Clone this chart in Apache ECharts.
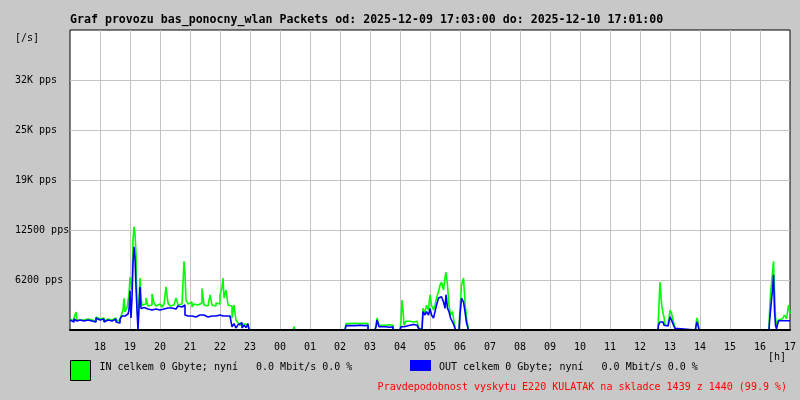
<!DOCTYPE html>
<html><head><meta charset="utf-8">
<script src="https://cdn.jsdelivr.net/npm/echarts@6/dist/echarts.min.js"></script>
<style>html,body{margin:0;padding:0;background:#c8c8c8}#c{width:800px;height:400px}</style>
</head><body><div id="c"></div>
<script>
// time axis: minutes after 17:00 (2025-12-09)
const minutes = [
  0,4,8,12,14,16,20,24,28,32,36,40,44,48,52,56,60,64,68,72,76,80,84,88,92,96,100,
  102,104,106,108,110,112,114,116,118,120,122,124,126,128,130,132,134,136,138,140,142,144,
  148,152,156,160,164,168,172,176,180,184,188,192,196,200,204,208,212,216,220,224,228,
  230,232,236,240,244,248,252,256,260,264,268,272,276,280,284,288,292,296,300,304,306,308,312,316,320,
  324,328,332,336,340,344,348,352,356,358,
  446,448,450,
  550,552,560,570,580,590,596,
  610,612,614,616,618,630,640,646,
  660,662,664,666,668,672,680,688,694,698,704,
  706,710,713,717,720,723,727,730,733,737,740,743,747,750,752,755,758,761,765,768,771,
  778,780,783,787,790,793,797,
  1176,1177,1180,1183,1186,1188,1190,1196,1200,1203,1207,1210,1214,
  1251,1252,1254,1256,1258,
  1398,1399,1401,1403,1405,1407,1409,1411,1413,1417,1421,1425,1429,1433,1437,1440
];
const inPps = [
  1375,1125,1500,2250,1250,1250,1500,1250,1125,1375,1500,1250,1375,1125,1625,1375,1250,1500,1125,1375,1625,1250,1375,1500,1125,1250,1500,
  1750,1875,2500,3950,2250,2000,2750,2750,4500,6600,6000,5000,11250,12900,12000,9600,3000,1250,1500,6500,4150,3100,
  3250,4000,3000,3125,4500,3375,3000,3250,3125,2875,3250,5400,3375,3000,3125,3250,4000,3125,3250,3500,8600,
  6900,3750,3250,3500,2875,3250,3125,3000,3375,5200,3125,3000,3250,4400,3125,3000,3375,3250,4400,5300,6500,4000,5000,3125,3000,
  1500,3100,1250,900,600,750,500,650,500,0,
  0,400,0,
  0,800,850,800,850,800,0,
  0,600,1500,1250,600,650,600,0,
  0,1200,3750,2500,600,1100,1000,1100,900,150,200,
  2700,2100,3100,2500,4400,3100,2500,3100,4000,4800,5600,6000,5000,6500,7200,5600,3100,1875,2300,1000,0,
  0,2700,5600,6500,3500,1500,0,
  0,1650,6000,3300,2100,1650,600,600,2500,2100,1000,300,0,
  0,800,1500,1000,0,
  0,2300,4600,4600,7100,8600,5000,1650,600,1250,1400,1250,1875,1400,3100,2000
];
const outPps = [
  1250,1000,1375,1125,1125,1250,1500,1125,1000,1250,1375,1125,1250,1000,1500,1250,1125,1375,1000,1250,1500,1125,1250,1375,1000,875,1375,
  1625,1750,1500,1750,1625,1875,2000,1875,2500,4900,1500,4000,8400,10400,9000,5400,2500,0,0,5400,2700,2800,
  2750,2625,2875,2500,2750,2625,2875,2500,2750,2625,2875,2750,2500,2750,2875,2625,2750,3000,2875,3000,3125,
  1875,1750,1875,1750,1875,1625,1750,1875,1750,1875,1750,1625,1875,1750,1875,1750,1750,1875,1625,1750,1875,1750,1625,1750,1500,
  400,800,250,650,900,250,600,300,800,0,
  0,250,0,
  0,550,550,600,550,600,0,
  0,400,1250,1000,400,350,400,0,
  0,400,500,400,400,600,700,600,600,100,100,
  2300,1875,2300,1875,2700,1875,1500,2300,3100,4000,4150,4400,3500,2700,4400,2700,2300,1500,1000,600,0,
  0,1875,4000,3500,2300,900,0,
  0,600,1000,1000,800,600,500,500,1650,1250,600,200,0,
  0,500,1000,600,0,
  0,1000,1000,3750,5000,6900,2500,600,150,1150,1150,1100,1150,1150,1150,1150
];
const hourLabels = ['17','18','19','20','21','22','23','00','01','02','03','04','05','06','07','08','09','10','11','12','13','14','15','16','17'];
const yTickLabels = ['', '6200 pps', '12500 pps', '19K pps', '25K pps', '32K pps', ''];
const titleText = 'Graf provozu bas_ponocny_wlan Packets od: 2025-12-09 17:03:00 do: 2025-12-10 17:01:00';
const inName = 'IN celkem 0 Gbyte; nyní   0.0 Mbit/s 0.0 %';
const outName = 'OUT celkem 0 Gbyte; nyní   0.0 Mbit/s 0.0 %';
const noteText = 'Pravdepodobnost vyskytu E220 KULATAK na skladce 1439 z 1440 (99.9 %)';

const mono = 'DejaVu Sans Mono';
const inData = minutes.map((m, i) => [m, inPps[i]]);
const outData = minutes.map((m, i) => [m, outPps[i]]);

const chart = echarts.init(document.getElementById('c'), null, {renderer: 'canvas'});
chart.setOption({
  backgroundColor: '#c8c8c8',
  animation: false,
  title: [
    {text: titleText, left: 70, top: 14, padding: 0,
     textStyle: {fontFamily: mono, fontSize: 11.6, fontWeight: 'bold', color: '#000'}},
    {text: '[/s]', left: 15, top: 33, padding: 0,
     textStyle: {fontFamily: mono, fontSize: 10, fontWeight: 'normal', color: '#000'}},
    {text: '[h]', right: 14, top: 352, padding: 0,
     textStyle: {fontFamily: mono, fontSize: 10, fontWeight: 'normal', color: '#000'}},
    {text: noteText, right: 13, top: 382, padding: 0,
     textStyle: {fontFamily: mono, fontSize: 10, fontWeight: 'normal', color: '#ff0000'}}
  ],
  legend: [
    {data: [inName], left: 70, top: 360, padding: 0, icon: 'rect', itemWidth: 20, itemHeight: 20,
     selectedMode: false, itemStyle: {borderColor: '#000', borderWidth: 1},
     formatter: n => '{t|' + n + '}',
     textStyle: {fontFamily: mono, fontSize: 10, color: '#000', padding: [0, 0, 0, 4],
                 rich: {t: {fontFamily: mono, fontSize: 10, color: '#000', padding: [0, 0, 6, 0]}}}},
    {data: [outName], left: 410, top: 360, padding: 0, icon: 'rect', itemWidth: 21, itemHeight: 11,
     selectedMode: false, itemStyle: {borderWidth: 0},
     formatter: n => '{t|' + n + '}',
     textStyle: {fontFamily: mono, fontSize: 10, color: '#000', padding: [0, 0, 0, 3],
                 rich: {t: {fontFamily: mono, fontSize: 10, color: '#000', padding: [3, 0, 0, 0]}}}}
  ],
  grid: {left: 70, right: 10, top: 30, bottom: 70, show: true, backgroundColor: '#ffffff',
         borderColor: '#000', borderWidth: 1},
  xAxis: [
    {type: 'value', min: 0, max: 1440, interval: 60,
     axisLine: {show: false}, axisTick: {show: false},
     splitLine: {show: true, showMinLine: false, showMaxLine: false, lineStyle: {color: '#c4c4c4', width: 1}},
     axisLabel: {fontFamily: mono, fontSize: 10, color: '#000', margin: 12, showMaxLabel: true,
                 formatter: v => v === 0 ? '' : hourLabels[Math.round(v / 60)]}},
    {type: 'value', min: 0, max: 1440, position: 'bottom', z: 10,
     axisLine: {show: true, lineStyle: {color: '#000', width: 2}},
     axisTick: {show: false}, axisLabel: {show: false}, splitLine: {show: false}}
  ],
  yAxis: {type: 'value', min: 0, max: 37500, interval: 6250,
    axisLine: {show: false}, axisTick: {show: false},
    splitLine: {show: true, showMinLine: false, showMaxLine: false, lineStyle: {color: '#c4c4c4', width: 1}},
    axisLabel: {fontFamily: mono, fontSize: 10, color: '#000', align: 'left', margin: 55, padding: [3, 0, 0, 0],
                formatter: v => yTickLabels[Math.round(v / 6250)] || ''}},
  series: [
    {name: inName, type: 'line', step: 'end', data: inData, showSymbol: false, xAxisIndex: 0,
     color: '#00ff00', itemStyle: {color: '#00ff00'}, lineStyle: {color: '#00ff00', width: 1.6}, z: 2},
    {name: outName, type: 'line', step: 'end', data: outData, showSymbol: false, xAxisIndex: 0,
     color: '#0000ff', itemStyle: {color: '#0000ff'}, lineStyle: {color: '#0000ff', width: 1.6}, z: 3}
  ]
});
</script></body></html>
